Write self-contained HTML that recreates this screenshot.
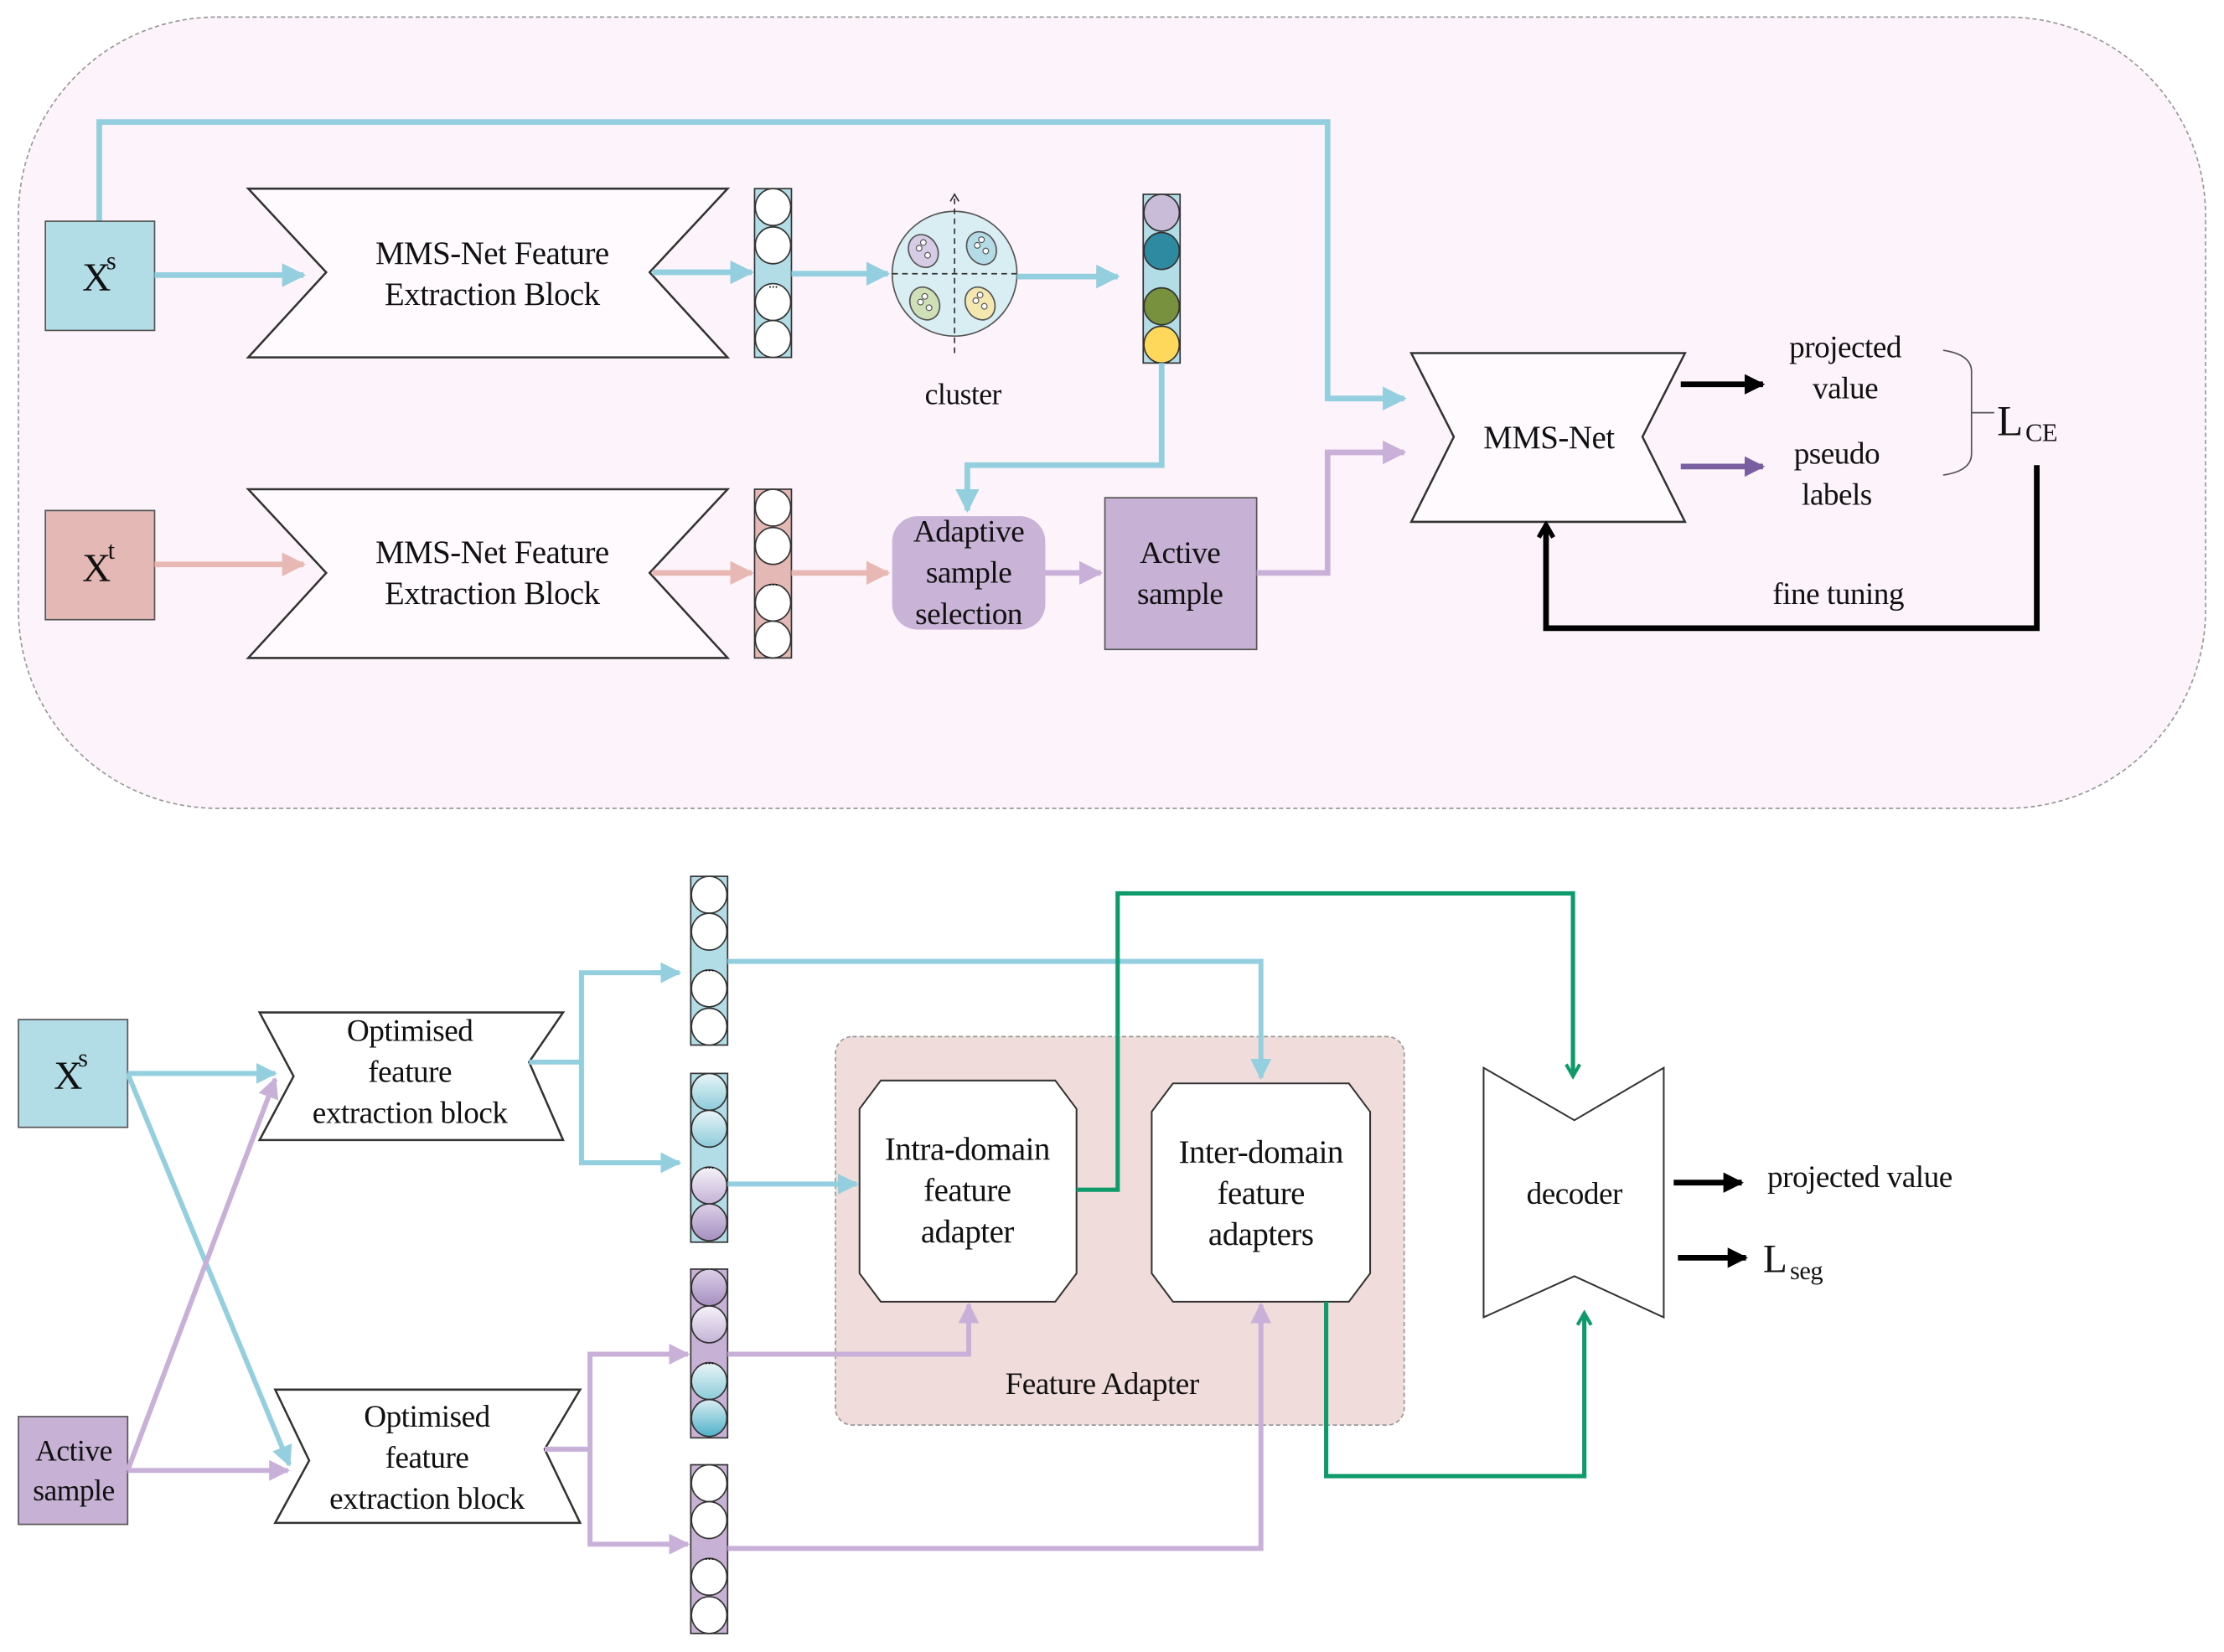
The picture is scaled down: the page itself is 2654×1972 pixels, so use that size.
<!DOCTYPE html>
<html><head><meta charset="utf-8"><style>
html,body{margin:0;padding:0;background:#fff}
svg{display:block}
text{font-family:"Liberation Serif",serif;fill:#111;letter-spacing:-0.3px}
</style></head><body>
<svg width="2654" height="1972" viewBox="0 0 1568 1165" xmlns="http://www.w3.org/2000/svg">
<defs>
<marker id="ab" viewBox="0 0 10 10" refX="9" refY="5" markerWidth="4.2" markerHeight="4.2" orient="auto" markerUnits="strokeWidth"><path d="M0,0L10,5L0,10z" fill="#93cfdf"/></marker>
<marker id="ap" viewBox="0 0 10 10" refX="9" refY="5" markerWidth="4.2" markerHeight="4.2" orient="auto" markerUnits="strokeWidth"><path d="M0,0L10,5L0,10z" fill="#e8b9b4"/></marker>
<marker id="av" viewBox="0 0 10 10" refX="9" refY="5" markerWidth="4.2" markerHeight="4.2" orient="auto" markerUnits="strokeWidth"><path d="M0,0L10,5L0,10z" fill="#c8b0d8"/></marker>
<marker id="ak" viewBox="0 0 10 10" refX="9" refY="5" markerWidth="3.6" markerHeight="3.6" orient="auto" markerUnits="strokeWidth"><path d="M0,0L10,5L0,10z" fill="#000"/></marker>
<marker id="am" viewBox="0 0 10 10" refX="9" refY="5" markerWidth="3.6" markerHeight="3.6" orient="auto" markerUnits="strokeWidth"><path d="M0,0L10,5L0,10z" fill="#7a5fa0"/></marker>
<marker id="ko" viewBox="0 0 10 10" refX="8" refY="5" markerWidth="3.2" markerHeight="3.2" orient="auto" markerUnits="strokeWidth"><path d="M1,1L8,5L1,9" fill="none" stroke="#000" stroke-width="2.5"/></marker>
<marker id="go" viewBox="0 0 10 10" refX="8" refY="5" markerWidth="4" markerHeight="4" orient="auto" markerUnits="strokeWidth"><path d="M1,1L8,5L1,9" fill="none" stroke="#0f9a6b" stroke-width="2"/></marker>
<linearGradient id="gB" x1="0" y1="0" x2="0" y2="1"><stop offset="0" stop-color="#e8f5f8"/><stop offset="1" stop-color="#8ccbd9"/></linearGradient>
<linearGradient id="gB2" x1="0" y1="0" x2="0" y2="1"><stop offset="0" stop-color="#d9eef3"/><stop offset="1" stop-color="#4fb0c8"/></linearGradient>
<linearGradient id="gV" x1="0" y1="0" x2="0" y2="1"><stop offset="0" stop-color="#f6f2f9"/><stop offset="1" stop-color="#c4b3d6"/></linearGradient>
<linearGradient id="gV2" x1="0" y1="0" x2="0" y2="1"><stop offset="0" stop-color="#ddd0e8"/><stop offset="1" stop-color="#a58fc0"/></linearGradient>
</defs>

<rect x="13" y="12" width="1542" height="558" rx="140" fill="#fdf4fb" stroke="#999" stroke-width="1" stroke-dasharray="3,2"/>

<polyline points="70,156 70,86 936,86 936,281 990,281" fill="none" stroke="#93cfdf" stroke-width="4" marker-end="url(#ab)"/>

<rect x="32" y="156" width="77" height="77" fill="#b3dde6" stroke="#555" stroke-width="1"/>
<text x="58" y="205" font-size="28">X</text><text x="75" y="190" font-size="18">s</text>
<rect x="32" y="360" width="77" height="77" fill="#e3b8b5" stroke="#555" stroke-width="1"/>
<text x="58" y="410" font-size="28">X</text><text x="76" y="394" font-size="18">t</text>

<line x1="109" y1="194" x2="214" y2="194" stroke="#93cfdf" stroke-width="4" marker-end="url(#ab)"/>
<line x1="109" y1="398" x2="214" y2="398" stroke="#e8b9b4" stroke-width="4" marker-end="url(#ap)"/>

<polygon points="175,133 513,133 458,192 513,252 175,252 230,192" fill="#fefafd" stroke="#333" stroke-width="1.5"/>
<text x="347" y="186" font-size="23" text-anchor="middle">MMS-Net Feature</text>
<text x="347" y="215" font-size="23" text-anchor="middle">Extraction Block</text>
<polygon points="175,345 513,345 458,404 513,464 175,464 230,404" fill="#fefafd" stroke="#333" stroke-width="1.5"/>
<text x="347" y="397" font-size="23" text-anchor="middle">MMS-Net Feature</text>
<text x="347" y="426" font-size="23" text-anchor="middle">Extraction Block</text>

<line x1="460" y1="192" x2="530" y2="192" stroke="#93cfdf" stroke-width="4" marker-end="url(#ab)"/>
<line x1="460" y1="404" x2="530" y2="404" stroke="#e8b9b4" stroke-width="4" marker-end="url(#ap)"/>

<rect x="532" y="133" width="26" height="119" fill="#b3dde6" stroke="#333" stroke-width="1"/>
<g fill="#fff" stroke="#333" stroke-width="1"><ellipse cx="545" cy="146" rx="12.5" ry="13"/><ellipse cx="545" cy="173" rx="12.5" ry="13"/><ellipse cx="545" cy="213" rx="12.5" ry="13"/><ellipse cx="545" cy="239" rx="12.5" ry="13"/></g>
<text x="545" y="203" font-size="10" text-anchor="middle">...</text>
<rect x="532" y="345" width="26" height="119" fill="#e3b8b5" stroke="#333" stroke-width="1"/>
<g fill="#fff" stroke="#333" stroke-width="1"><ellipse cx="545" cy="358" rx="12.5" ry="13"/><ellipse cx="545" cy="385" rx="12.5" ry="13"/><ellipse cx="545" cy="425" rx="12.5" ry="13"/><ellipse cx="545" cy="451" rx="12.5" ry="13"/></g>
<text x="545" y="413" font-size="10" text-anchor="middle">...</text>

<line x1="558" y1="193" x2="626" y2="193" stroke="#93cfdf" stroke-width="4" marker-end="url(#ab)"/>
<line x1="558" y1="404" x2="626" y2="404" stroke="#e8b9b4" stroke-width="4" marker-end="url(#ap)"/>

<circle cx="673" cy="193" r="44" fill="#d9eef3" stroke="#555" stroke-width="1"/>
<line x1="673" y1="140" x2="673" y2="252" stroke="#333" stroke-width="1" stroke-dasharray="4,3"/>
<path d="M670,142L673,137L676,142" fill="none" stroke="#333" stroke-width="1"/>
<line x1="629" y1="193" x2="717" y2="193" stroke="#333" stroke-width="1" stroke-dasharray="4,3"/>
<ellipse cx="651" cy="177" rx="10" ry="12" fill="#d6cce6" stroke="#555" transform="rotate(-30 651 177)"/>
<ellipse cx="692" cy="175" rx="10" ry="12" fill="#b4dce6" stroke="#555" transform="rotate(-30 692 175)"/>
<ellipse cx="652" cy="214" rx="10" ry="12" fill="#cfe0b7" stroke="#555" transform="rotate(-30 652 214)"/>
<ellipse cx="691" cy="214" rx="10" ry="12" fill="#f5e7b0" stroke="#555" transform="rotate(-30 691 214)"/>
<g fill="#fff" stroke="#555" stroke-width="0.7"><circle cx="648" cy="175" r="2"/><circle cx="654" cy="180" r="2"/><circle cx="651" cy="171" r="2"/><circle cx="689" cy="173" r="2"/><circle cx="695" cy="177" r="2"/><circle cx="692" cy="169" r="2"/><circle cx="649" cy="213" r="2"/><circle cx="655" cy="217" r="2"/><circle cx="652" cy="209" r="2"/><circle cx="688" cy="212" r="2"/><circle cx="694" cy="216" r="2"/><circle cx="691" cy="208" r="2"/></g>
<line x1="717" y1="195" x2="788" y2="195" stroke="#93cfdf" stroke-width="4" marker-end="url(#ab)"/>
<text x="679" y="285" font-size="21" text-anchor="middle">cluster</text>

<rect x="806" y="137" width="26" height="119" fill="#b3dde6" stroke="#333" stroke-width="1"/>
<ellipse cx="819" cy="150" rx="12.5" ry="13" fill="#c9bcd8" stroke="#333"/>
<ellipse cx="819" cy="177" rx="12.5" ry="13" fill="#2e8aa0" stroke="#333"/>
<text x="819" y="206" font-size="10" text-anchor="middle">...</text>
<ellipse cx="819" cy="216" rx="12.5" ry="13" fill="#77913f" stroke="#333"/>
<ellipse cx="819" cy="243" rx="12.5" ry="13" fill="#fdd85a" stroke="#333"/>

<polyline points="819,256 819,328 682,328 682,360" fill="none" stroke="#93cfdf" stroke-width="4" marker-end="url(#ab)"/>

<rect x="629" y="364" width="108" height="80" rx="18" fill="#c9b3d7"/>
<text x="683" y="382" font-size="22" text-anchor="middle">Adaptive</text>
<text x="683" y="411" font-size="22" text-anchor="middle">sample</text>
<text x="683" y="440" font-size="22" text-anchor="middle">selection</text>
<line x1="737" y1="404" x2="776" y2="404" stroke="#c8b0d8" stroke-width="4" marker-end="url(#av)"/>
<rect x="779" y="351" width="107" height="107" fill="#c7b2d6" stroke="#555" stroke-width="1"/>
<text x="832" y="397" font-size="22" text-anchor="middle">Active</text>
<text x="832" y="426" font-size="22" text-anchor="middle">sample</text>
<polyline points="886,404 936,404 936,319 990,319" fill="none" stroke="#c8b0d8" stroke-width="4" marker-end="url(#av)"/>

<polygon points="995,249 1188,249 1158,308 1188,368 995,368 1025,308" fill="#fefafd" stroke="#333" stroke-width="1.5"/>
<text x="1092" y="316" font-size="23" text-anchor="middle">MMS-Net</text>
<line x1="1185" y1="271" x2="1243" y2="271" stroke="#000" stroke-width="4" marker-end="url(#ak)"/>
<line x1="1185" y1="329" x2="1243" y2="329" stroke="#7a5fa0" stroke-width="4" marker-end="url(#am)"/>
<text x="1301" y="252" font-size="22" text-anchor="middle">projected</text>
<text x="1301" y="281" font-size="22" text-anchor="middle">value</text>
<text x="1295" y="327" font-size="22" text-anchor="middle">pseudo</text>
<text x="1295" y="356" font-size="22" text-anchor="middle">labels</text>
<path d="M1370,247 Q1390,250 1390,262 L1390,320 Q1390,332 1370,335 M1390,291 L1406,291" fill="none" stroke="#555" stroke-width="1"/>
<text x="1408" y="307" font-size="30">L</text><text x="1428" y="311" font-size="18">CE</text>
<polyline points="1436,328 1436,443 1090,443 1090,370" fill="none" stroke="#000" stroke-width="4" marker-end="url(#ko)"/>
<text x="1296" y="426" font-size="22" text-anchor="middle">fine tuning</text>

<rect x="589" y="731" width="401" height="274" rx="12" fill="#efdcdb" stroke="#999" stroke-width="1" stroke-dasharray="3,2"/>
<text x="777" y="983" font-size="22" text-anchor="middle">Feature Adapter</text>

<rect x="13" y="719" width="77" height="76" fill="#b3dde6" stroke="#555" stroke-width="1"/>
<text x="38" y="768" font-size="28">X</text><text x="55" y="752" font-size="18">s</text>
<rect x="13" y="999" width="77" height="76" fill="#c7b2d6" stroke="#555" stroke-width="1"/>
<text x="52" y="1030" font-size="21" text-anchor="middle">Active</text>
<text x="52" y="1058" font-size="21" text-anchor="middle">sample</text>

<line x1="90" y1="757" x2="194" y2="757" stroke="#93cfdf" stroke-width="3.5" marker-end="url(#ab)"/>
<line x1="90" y1="1037" x2="203" y2="1037" stroke="#c8b0d8" stroke-width="3.5" marker-end="url(#av)"/>
<line x1="90" y1="757" x2="204" y2="1033" stroke="#93cfdf" stroke-width="3.5" marker-end="url(#ab)"/>
<line x1="90" y1="1037" x2="194" y2="761" stroke="#c8b0d8" stroke-width="3.5" marker-end="url(#av)"/>

<polygon points="183,714 397,714 373,749 397,804 183,804 207,759" fill="#fff" stroke="#333" stroke-width="1.5"/>
<text x="289" y="734" font-size="22" text-anchor="middle">Optimised</text>
<text x="289" y="763" font-size="22" text-anchor="middle">feature</text>
<text x="289" y="792" font-size="22" text-anchor="middle">extraction block</text>
<polygon points="194,980 409,980 384,1022 409,1074 194,1074 218,1030" fill="#fff" stroke="#333" stroke-width="1.5"/>
<text x="301" y="1006" font-size="22" text-anchor="middle">Optimised</text>
<text x="301" y="1035" font-size="22" text-anchor="middle">feature</text>
<text x="301" y="1064" font-size="22" text-anchor="middle">extraction block</text>

<polyline points="373,749 410,749" fill="none" stroke="#93cfdf" stroke-width="3.5"/>
<polyline points="470,686 410,686 410,820 470,820" fill="none" stroke="#93cfdf" stroke-width="3.5"/>
<line x1="460" y1="686" x2="479" y2="686" stroke="#93cfdf" stroke-width="3.5" marker-end="url(#ab)"/>
<line x1="460" y1="820" x2="479" y2="820" stroke="#93cfdf" stroke-width="3.5" marker-end="url(#ab)"/>
<polyline points="384,1022 416,1022" fill="none" stroke="#c8b0d8" stroke-width="3.5"/>
<polyline points="475,955 416,955 416,1089 475,1089" fill="none" stroke="#c8b0d8" stroke-width="3.5"/>
<line x1="465" y1="955" x2="485" y2="955" stroke="#c8b0d8" stroke-width="3.5" marker-end="url(#av)"/>
<line x1="465" y1="1089" x2="485" y2="1089" stroke="#c8b0d8" stroke-width="3.5" marker-end="url(#av)"/>

<rect x="487" y="618" width="26" height="119" fill="#b3dde6" stroke="#333"/>
<g fill="#fff" stroke="#333"><ellipse cx="500" cy="631" rx="12.5" ry="13"/><ellipse cx="500" cy="657" rx="12.5" ry="13"/><ellipse cx="500" cy="697" rx="12.5" ry="13"/><ellipse cx="500" cy="724" rx="12.5" ry="13"/></g>
<text x="500" y="685" font-size="10" text-anchor="middle">...</text>
<rect x="487" y="757" width="26" height="119" fill="#b3dde6" stroke="#333"/>
<ellipse cx="500" cy="770" rx="12.5" ry="13" fill="url(#gB)" stroke="#333"/>
<ellipse cx="500" cy="796" rx="12.5" ry="13" fill="url(#gB)" stroke="#333"/>
<ellipse cx="500" cy="836" rx="12.5" ry="13" fill="url(#gV)" stroke="#333"/>
<ellipse cx="500" cy="862" rx="12.5" ry="13" fill="url(#gV2)" stroke="#333"/>
<text x="500" y="824" font-size="10" text-anchor="middle">...</text>
<rect x="487" y="895" width="26" height="119" fill="#c7b2d6" stroke="#333"/>
<ellipse cx="500" cy="908" rx="12.5" ry="13" fill="url(#gV2)" stroke="#333"/>
<ellipse cx="500" cy="934" rx="12.5" ry="13" fill="url(#gV)" stroke="#333"/>
<ellipse cx="500" cy="974" rx="12.5" ry="13" fill="url(#gB)" stroke="#333"/>
<ellipse cx="500" cy="1000" rx="12.5" ry="13" fill="url(#gB2)" stroke="#333"/>
<text x="500" y="962" font-size="10" text-anchor="middle">...</text>
<rect x="487" y="1033" width="26" height="119" fill="#c7b2d6" stroke="#333"/>
<g fill="#fff" stroke="#333"><ellipse cx="500" cy="1046" rx="12.5" ry="13"/><ellipse cx="500" cy="1072" rx="12.5" ry="13"/><ellipse cx="500" cy="1112" rx="12.5" ry="13"/><ellipse cx="500" cy="1139" rx="12.5" ry="13"/></g>
<text x="500" y="1100" font-size="10" text-anchor="middle">...</text>

<polyline points="513,678 889,678 889,760" fill="none" stroke="#93cfdf" stroke-width="3.5" marker-end="url(#ab)"/>
<line x1="513" y1="835" x2="604" y2="835" stroke="#93cfdf" stroke-width="3.5" marker-end="url(#ab)"/>
<polyline points="513,955 683,955 683,920" fill="none" stroke="#c8b0d8" stroke-width="3.5" marker-end="url(#av)"/>
<polyline points="513,1092 889,1092 889,920" fill="none" stroke="#c8b0d8" stroke-width="3.5" marker-end="url(#av)"/>

<polygon points="621,762 744,762 759,782 759,898 744,918 621,918 606,898 606,782" fill="#fff" stroke="#333" stroke-width="1.2"/>
<text x="682" y="818" font-size="23" text-anchor="middle">Intra-domain</text>
<text x="682" y="847" font-size="23" text-anchor="middle">feature</text>
<text x="682" y="876" font-size="23" text-anchor="middle">adapter</text>
<polygon points="827,764 951,764 966,784 966,898 951,918 827,918 812,898 812,784" fill="#fff" stroke="#333" stroke-width="1.2"/>
<text x="889" y="820" font-size="23" text-anchor="middle">Inter-domain</text>
<text x="889" y="849" font-size="23" text-anchor="middle">feature</text>
<text x="889" y="878" font-size="23" text-anchor="middle">adapters</text>

<polyline points="759,839 788,839 788,630 1109,630 1109,759" fill="none" stroke="#0f9a6b" stroke-width="3" marker-end="url(#go)"/>
<polyline points="935,918 935,1041 1117,1041 1117,926" fill="none" stroke="#0f9a6b" stroke-width="3" marker-end="url(#go)"/>

<polygon points="1046,753 1110,790 1173,753 1173,929 1110,900 1046,929" fill="#fff" stroke="#333" stroke-width="1.2"/>
<text x="1110" y="849" font-size="22" text-anchor="middle">decoder</text>
<line x1="1180" y1="834" x2="1228" y2="834" stroke="#000" stroke-width="4" marker-end="url(#ak)"/>
<line x1="1183" y1="887" x2="1231" y2="887" stroke="#000" stroke-width="4" marker-end="url(#ak)"/>
<text x="1246" y="837" font-size="22">projected value</text>
<text x="1243" y="897" font-size="28">L</text><text x="1262" y="902" font-size="18">seg</text>
</svg>
</body></html>
